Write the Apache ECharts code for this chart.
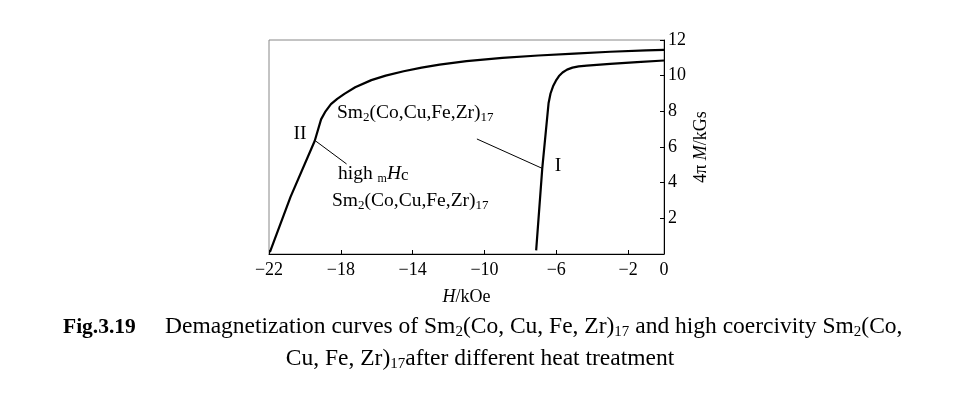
<!DOCTYPE html>
<html>
<head>
<meta charset="utf-8">
<script src="https://cdn.jsdelivr.net/npm/echarts@6/dist/echarts.min.js"></script>
<style>
html,body{margin:0;padding:0;background:#fff;}
#c{width:967px;height:394px;}
</style>
</head>
<body>
<div id="c"></div>
<script>
// ---- data ----
// Curve I : Sm2(Co,Cu,Fe,Zr)17
const curve1H = [-7.12, -6.78, -6.43, -6.32, -6.18, -6.02, -5.85, -5.65, -5.4, -5.1, -4.75, -4.3, -3, -1.5, 0];
const curve1M = [0.2, 4.8, 8.45, 9.0, 9.4, 9.72, 9.98, 10.18, 10.34, 10.45, 10.52, 10.56, 10.66, 10.76, 10.85];
// Curve II : high mHc Sm2(Co,Cu,Fe,Zr)17
const curve2H = [-21.95, -20.8, -19.45, -19.1, -18.85, -18.55, -18.2, -17.8, -17.2, -16.3, -15.5, -14.5, -13.5, -12.5, -11, -9, -7, -5, -3, -1, 0];
const curve2M = [0.1, 3.2, 6.35, 7.55, 8.0, 8.4, 8.7, 8.98, 9.35, 9.75, 10.0, 10.25, 10.45, 10.62, 10.82, 11.0, 11.13, 11.24, 11.34, 11.42, 11.45];
// leader lines (data coords)
const leaderIIH = [-19.42, -17.68];
const leaderIIM = [6.35, 5.05];
const leaderIH = [-10.42, -6.78];
const leaderIM = [6.45, 4.8];
// axes
const xMin = -22, xMax = 0, xStep = 4;
const yMin = 0, yMax = 12, yStep = 2;

const FF = 'Liberation Serif';
const zip = (a, b) => a.map((v, i) => [v, b[i]]);

const chart = echarts.init(document.getElementById('c'), null, {renderer: 'canvas'});

const subRich = {
  n: {fontFamily: FF, fontSize: 19.5, color: '#000'},
  s: {fontFamily: FF, fontSize: 13, color: '#000', padding: [10, 0, 0, 0]},
  m: {fontFamily: FF, fontSize: 12, color: '#000', padding: [10, 0, 0, 0]},
  i: {fontFamily: FF, fontSize: 19.5, color: '#000', fontStyle: 'italic'},
  c: {fontFamily: FF, fontSize: 17, color: '#000', padding: [3, 0, 0, 0]}
};
const capRich = {
  b: {fontFamily: FF, fontSize: 21.5, fontWeight: 'bold', color: '#000'},
  n: {fontFamily: FF, fontSize: 23.5, color: '#000'},
  s: {fontFamily: FF, fontSize: 15, color: '#000', padding: [11, 0, 0, 0]}
};

function txt(x, y, text, rich, align) {
  return {
    type: 'text', x: x, y: y, silent: true,
    style: {text: text, rich: rich, align: align || 'left', verticalAlign: 'middle', fill: '#000', font: '19px ' + FF}
  };
}

const option = {
  animation: false,
  backgroundColor: '#fff',
  grid: {left: 269, top: 40, width: 395, height: 214, show: true, borderColor: '#888', borderWidth: 1, containLabel: false},
  xAxis: {
    type: 'value', min: xMin, max: xMax, interval: xStep,
    axisLine: {show: true, onZero: false, lineStyle: {color: '#000', width: 1}},
    axisTick: {show: true, inside: true, length: 4, lineStyle: {color: '#000'}},
    splitLine: {show: false},
    axisLabel: {
      color: '#000', fontFamily: FF, fontSize: 18, margin: 7, showMaxLabel: true, showMinLabel: true,
      formatter: v => v < 0 ? '\u2212' + (-v) : String(v)
    },
    name: '{i|H}/kOe', nameLocation: 'middle', nameGap: 34,
    nameTextStyle: {color: '#000', fontFamily: FF, fontSize: 18, rich: {i: {fontFamily: FF, fontSize: 18, fontStyle: 'italic', color: '#000'}}}
  },
  yAxis: {
    type: 'value', position: 'right', min: yMin, max: yMax, interval: yStep,
    axisLine: {show: true, lineStyle: {color: '#000', width: 1}},
    axisTick: {show: true, inside: true, length: 4, lineStyle: {color: '#000'}},
    splitLine: {show: false},
    axisLabel: {
      color: '#000', fontFamily: FF, fontSize: 18, margin: 4, padding: [5, 0, 0, 0],
      formatter: v => v === 0 ? '' : String(v)
    },
    name: '4\u03c0 {i|M}/kGs', nameLocation: 'middle', nameRotate: 90, nameGap: 28,
    nameTextStyle: {color: '#000', fontFamily: FF, fontSize: 18, rich: {i: {fontFamily: FF, fontSize: 18, fontStyle: 'italic', color: '#000'}}}
  },
  series: [
    {type: 'line', data: zip(curve1H, curve1M), showSymbol: false, lineStyle: {color: '#000', width: 2.2}, z: 3},
    {type: 'line', data: zip(curve2H, curve2M), showSymbol: false, lineStyle: {color: '#000', width: 2.2}, z: 3},
    {type: 'line', data: zip(leaderIIH, leaderIIM), showSymbol: false, lineStyle: {color: '#000', width: 1}},
    {type: 'line', data: zip(leaderIH, leaderIM), showSymbol: false, lineStyle: {color: '#000', width: 1}}
  ],
  graphic: [
    txt(300, 134, '{n|II}', subRich, 'center'),
    txt(558, 166, '{n|I}', subRich, 'center'),
    txt(337, 113, '{n|Sm}{s|2}{n|(Co,Cu,Fe,Zr)}{s|17}', subRich),
    txt(338, 174, '{n|high }{m|m}{i|H}{c|c}', subRich),
    txt(332, 201, '{n|Sm}{s|2}{n|(Co,Cu,Fe,Zr)}{s|17}', subRich),
    txt(63, 327, '{b|Fig.3.19}', capRich),
    txt(165, 327, '{n|Demagnetization curves of Sm}{s|2}{n|(Co, Cu, Fe, Zr)}{s|17}{n| and high coercivity Sm}{s|2}{n|(Co,}', capRich),
    txt(480, 359, '{n|Cu, Fe, Zr)}{s|17}{n|after different heat treatment}', capRich, 'center')
  ]
};
chart.setOption(option);
</script>
</body>
</html>
